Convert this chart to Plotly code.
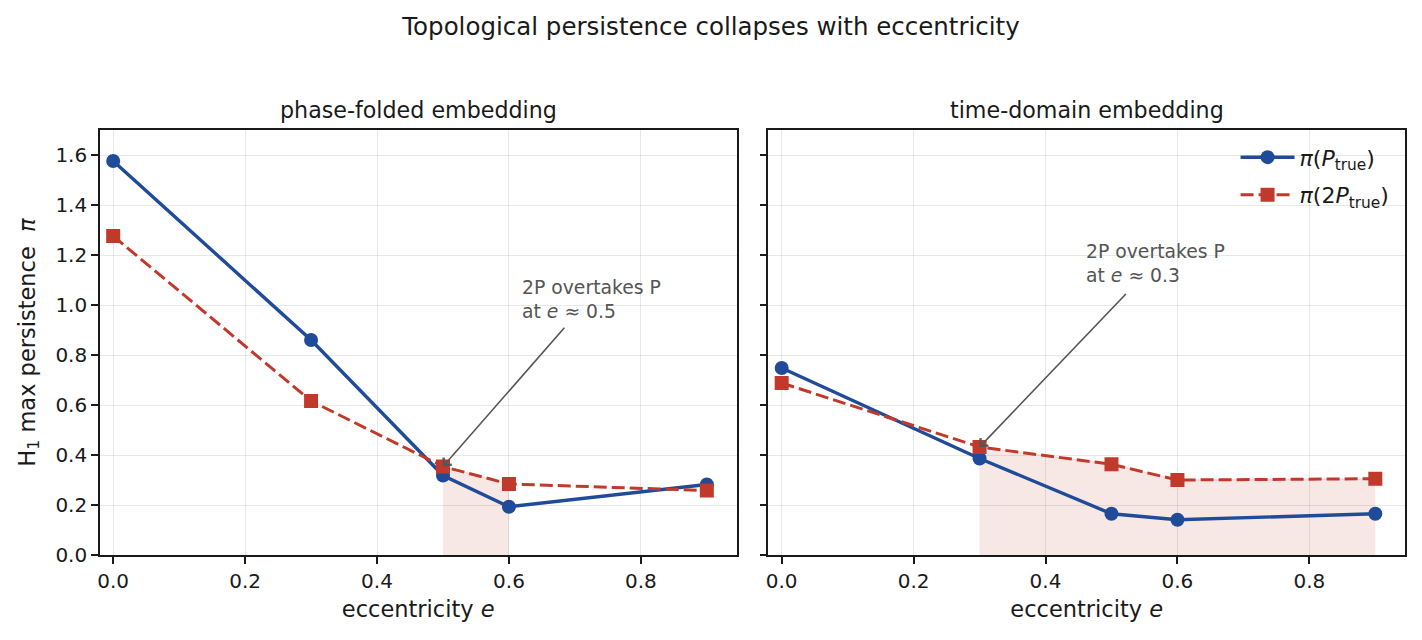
import plotly.graph_objects as go
from plotly.subplots import make_subplots

# data
ecc = [0.0, 0.3, 0.5, 0.6, 0.9]
phase_P = [1.576, 0.86, 0.318, 0.193, 0.282]
phase_2P = [1.276, 0.616, 0.354, 0.284, 0.258]
time_P = [0.748, 0.386, 0.165, 0.141, 0.165]
time_2P = [0.688, 0.432, 0.363, 0.300, 0.305]
panel_titles = ["phase-folded embedding", "time-domain embedding"]

BLUE = "#1f4b99"
RED = "#c0392b"
FONT = "DejaVu Sans"
INK = "#1a1a1a"

fig = make_subplots(rows=1, cols=2, shared_yaxes=True, horizontal_spacing=0.0245,
                    subplot_titles=panel_titles)

def fill_segments(x, top, low):
    segs, cur = [], []
    for xi, t, l in zip(x, top, low):
        if t > l:
            cur.append((xi, t))
        else:
            if cur:
                segs.append(cur)
            cur = []
    if cur:
        segs.append(cur)
    return segs

for col, (p1, p2) in enumerate([(phase_P, phase_2P), (time_P, time_2P)], start=1):
    for seg in fill_segments(ecc, p2, p1):
        fig.add_trace(go.Scatter(x=[s[0] for s in seg], y=[s[1] for s in seg],
                                 mode="lines", fill="tozeroy",
                                 fillcolor="rgba(192,57,43,0.12)",
                                 line=dict(color="rgba(192,57,43,0.15)", width=1),
                                 showlegend=False, hoverinfo="skip"), row=1, col=col)
    fig.add_trace(go.Scatter(x=ecc, y=p1, mode="lines+markers",
                             name="<i>π</i>(<i>P</i><sub>true</sub>)",
                             legendgroup="p1",
                             line=dict(color=BLUE, width=3.4),
                             marker=dict(symbol="circle", size=14, color=BLUE),
                             showlegend=(col == 2)), row=1, col=col)
    fig.add_trace(go.Scatter(x=ecc, y=p2, mode="lines+markers",
                             name="<i>π</i>(2<i>P</i><sub>true</sub>)",
                             legendgroup="p2",
                             line=dict(color=RED, width=3.0, dash="13px,5px"),
                             marker=dict(symbol="square", size=14, color=RED),
                             showlegend=(col == 2)), row=1, col=col)

axis_common = dict(showline=True, linecolor=INK, linewidth=1.6, mirror=True,
                   ticks="outside", ticklen=7, tickwidth=1.6, tickcolor=INK,
                   showgrid=True, gridcolor="rgba(0,0,0,0.09)", gridwidth=1.2,
                   zeroline=False, tickfont=dict(family=FONT, size=20, color=INK))

for c in (1, 2):
    fig.update_xaxes(range=[-0.02, 0.945], tickvals=[0, 0.2, 0.4, 0.6, 0.8],
                     ticktext=["0.0", "0.2", "0.4", "0.6", "0.8"],
                     title=dict(text="eccentricity <i>e</i>", font=dict(family=FONT, size=22.5, color=INK), standoff=9),
                     row=1, col=c, **axis_common)
    fig.update_yaxes(range=[0, 1.7], tickvals=[0, 0.2, 0.4, 0.6, 0.8, 1.0, 1.2, 1.4, 1.6],
                     ticktext=["0.0", "0.2", "0.4", "0.6", "0.8", "1.0", "1.2", "1.4", "1.6"],
                     row=1, col=c, **axis_common)
fig.update_yaxes(title=dict(text="H<sub>1</sub> max persistence  <i>π</i>",
                            font=dict(family=FONT, size=22.5, color=INK), standoff=14),
                 row=1, col=1)
fig.update_yaxes(showticklabels=False, row=1, col=2)

for a in fig.layout.annotations:
    a.font = dict(family=FONT, size=22.2, color=INK)
    a.yshift = 5

ann_color = "#555555"
# arrows
fig.add_annotation(x=0.5, y=0.354, ax=0.686, ay=0.915, xref="x", yref="y", axref="x", ayref="y",
                   text="", showarrow=True, arrowhead=4, arrowsize=1.3, arrowwidth=1.6, arrowcolor=ann_color)
fig.add_annotation(x=0.3, y=0.432, ax=0.524, ay=1.05, xref="x2", yref="y2", axref="x2", ayref="y2",
                   text="", showarrow=True, arrowhead=4, arrowsize=1.3, arrowwidth=1.6, arrowcolor=ann_color)
# texts
fig.add_annotation(x=0.617, y=0.925, xref="x", yref="y", xanchor="left", yanchor="bottom",
                   text="2P overtakes P<br>at <i>e</i> ≈ 0.5", showarrow=False, align="left",
                   font=dict(family=FONT, size=18.8, color=ann_color))
fig.add_annotation(x=0.458, y=1.07, xref="x2", yref="y2", xanchor="left", yanchor="bottom",
                   text="2P overtakes P<br>at <i>e</i> ≈ 0.3", showarrow=False, align="left",
                   font=dict(family=FONT, size=18.8, color=ann_color))

fig.update_layout(
    width=1422, height=640,
    margin=dict(l=100, r=17, t=130, b=85),
    plot_bgcolor="white", paper_bgcolor="white",
    font=dict(family=FONT, color=INK),
    title=dict(text="Topological persistence collapses with eccentricity",
               x=0.5, xanchor="center", y=0.958, yanchor="middle",
               font=dict(family=FONT, size=24.5, color=INK)),
    legend=dict(x=0.992, y=0.985, xanchor="right", yanchor="top",
                bgcolor="rgba(0,0,0,0)", font=dict(family=FONT, size=22, color=INK),
                itemwidth=54, tracegroupgap=6),
)

fig.write_html("out.html")
